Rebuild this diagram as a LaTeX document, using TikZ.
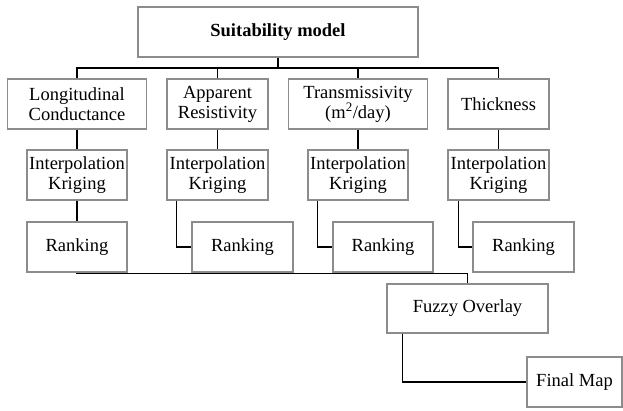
\documentclass[tikz,border=0pt]{standalone}
\usepackage{fontspec}
\setmainfont{Liberation Serif}
\begin{document}
\begin{tikzpicture}[x=1pt,y=-1pt,
  box/.style={draw=black!45, line width=1.1pt, fill=white, align=center,
    inner sep=0pt, minimum height=50pt,
    font=\fontsize{18.5}{20}\selectfont},
  conn/.style={draw=black, line width=1.4pt}]
\useasboundingbox (0,0) rectangle (623,410);
% top
\node[box, minimum width=280pt, font=\fontsize{18.5}{20}\selectfont\bfseries] (top) at (278,32) {Suitability model};
% row 2
\node[box, minimum width=139pt] (L) at (77,104) {Longitudinal\\Conductance};
\node[box, minimum width=101pt] (A) at (217.5,104) {Apparent\\Resistivity};
\node[box, minimum width=139pt] (T) at (358,104) {Transmissivity\\(m\textsuperscript{2}/day)};
\node[box, minimum width=101pt] (K) at (498.5,104) {Thickness};
% interpolation
\node[box, minimum width=100pt] (I1) at (77,175) {Interpolation\\Kriging};
\node[box, minimum width=101pt] (I2) at (217.5,175) {Interpolation\\Kriging};
\node[box, minimum width=100pt] (I3) at (358,175) {Interpolation\\Kriging};
\node[box, minimum width=101pt] (I4) at (498.5,175) {Interpolation\\Kriging};
% ranking
\node[box, minimum width=100pt] (R1) at (77,247) {Ranking};
\node[box, minimum width=101pt] (R2) at (242.5,247) {Ranking};
\node[box, minimum width=100pt] (R3) at (383,247) {Ranking};
\node[box, minimum width=101pt] (R4) at (523.5,247) {Ranking};
% fuzzy and final
\node[box, minimum width=161pt, minimum height=49pt] (F) at (467.5,308.5) {Fuzzy Overlay};
\node[box, minimum width=95pt] (M) at (574.5,382) {Final Map};
% connectors
\coordinate (bus) at (278,68);
\draw[conn] (top.south) -- (bus);
\draw[conn] (L.north) |- (bus) -| (K.north);
\draw[conn] (A.north) -- (A.north |- bus);
\draw[conn] (T.north) -- (T.north |- bus);
\draw[conn] (L.south) -- (I1.north);
\draw[conn] (A.south) -- (I2.north);
\draw[conn] (T.south) -- (I3.north);
\draw[conn] (K.south) -- (I4.north);
\draw[conn] (I1.south) -- (R1.north);
\draw[conn] ([xshift=10pt]I2.south west) |- (R2.west);
\draw[conn] ([xshift=10pt]I3.south west) |- (R3.west);
\draw[conn] ([xshift=11pt]I4.south west) |- (R4.west);
\draw[conn] (R1.south) -- ++(0,1.2) -| (F.north);
\draw[conn] ([xshift=16pt]F.south west) |- (M.west);
\end{tikzpicture}
\end{document}
